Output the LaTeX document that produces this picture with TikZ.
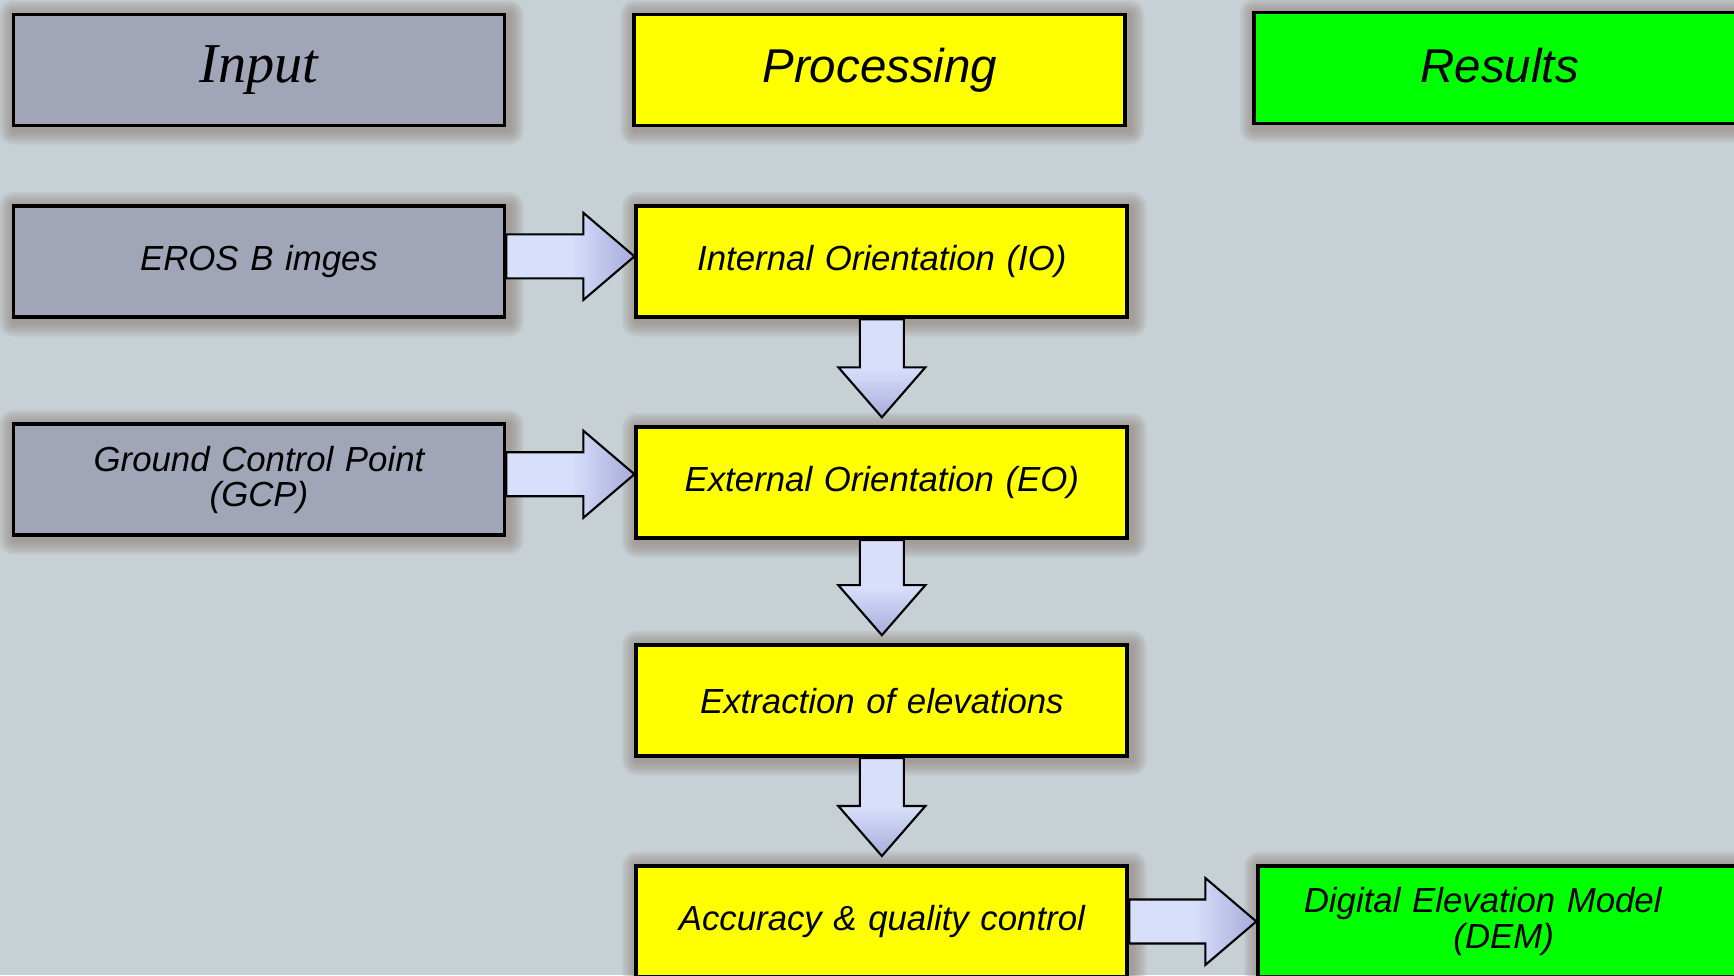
\documentclass[tikz,border=0pt]{standalone}
\usepackage{fontspec}
\setmainfont{Liberation Sans}
\newfontfamily\headserif{Liberation Serif}
\usetikzlibrary{positioning, calc, backgrounds}
\definecolor{slidebg}{HTML}{C6D0D5}
\definecolor{inputgray}{HTML}{A1A5B8}
\definecolor{procyellow}{HTML}{FFFF00}
\definecolor{resgreen}{HTML}{00FF00}
\definecolor{arrowlight}{HTML}{D7DFFB}
\definecolor{arrowdark}{HTML}{A7ABDA}
\definecolor{shadowbrown}{HTML}{8C7B70}

\tikzset{
  flowbox/.style={draw=black, line width=1.1pt, minimum width=4.91cm, minimum height=1.11cm,
    text width=4.6cm, align=center, inner sep=0pt, font=\fontsize{9.9}{10}\selectfont\itshape},
  inbox/.style={flowbox, fill=inputgray},
  procbox/.style={flowbox, fill=procyellow},
  resbox/.style={flowbox, fill=resgreen},
  headsans/.style={font=\fontsize{13.5}{14}\selectfont\itshape},
  fatarrow/.style={draw=black, line width=0.6pt},
}

% soft glow behind a box
\newcommand{\boxshadow}[1]{%
  \foreach \k [evaluate=\k as \d using 0.6*\k] in {1,...,7}{%
    \fill[shadowbrown, opacity=0.11, rounded corners=\d pt]
      ($(#1.south west)+(-\d pt+0.7pt,-\d pt-0.7pt)$) rectangle ($(#1.north east)+(\d pt+0.7pt,\d pt-0.7pt)$);
  }}

% block arrows between boxes, optional lift of the arrow axis
\newcommand{\hfat}[3][0cm]{%
  \filldraw[fatarrow, left color=arrowlight, right color=arrowdark, middle color=arrowlight]
    let \p1=($(#2.east)+(0,#1)$), \p2=(#3.west) in
    (\x1,\y1+0.22cm) -- (\x2-0.51cm,\y1+0.22cm) -- (\x2-0.51cm,\y1+0.435cm) -- (\x2,\y1)
    -- (\x2-0.51cm,\y1-0.435cm) -- (\x2-0.51cm,\y1-0.22cm) -- (\x1,\y1-0.22cm) -- cycle;}
\newcommand{\vfat}[2]{%
  \filldraw[fatarrow, top color=arrowlight, bottom color=arrowdark, middle color=arrowlight]
    let \p1=(#1.south), \p2=(#2.north) in
    (\x1-0.22cm,\y1) -- (\x1-0.22cm,\y2+0.58cm) -- (\x1-0.435cm,\y2+0.58cm) -- (\x1,\y2+0.08cm)
    -- (\x1+0.435cm,\y2+0.58cm) -- (\x1+0.22cm,\y2+0.58cm) -- (\x1+0.22cm,\y1) -- cycle;}

\begin{document}
\begin{tikzpicture}
    \useasboundingbox (0,0) rectangle (17.34,-9.75);
    \begin{scope}[on background layer]
      \fill[slidebg] (0,0) rectangle (17.34,-9.75);
    \end{scope}

    % column heads
    \node[inbox, font=\headserif\fontsize{16}{18}\selectfont\itshape] (input) at (2.59,-0.70) {Input};
    \node[procbox, headsans, right=1.26cm of input] (proc) {Processing};
    \node[resbox, headsans, right=1.25cm of proc, yshift=0.02cm] (res) {\raisebox{0.05cm}{Results}};

    % steps
    \node[inbox, below=0.77cm of input] (eros) {EROS B imges};
    \node[procbox, right=1.28cm of eros] (io) {Internal Orientation (IO)};
    \node[procbox, below=1.06cm of io] (eo) {External Orientation (EO)};
    \node[inbox, left=1.28cm of eo, yshift=0.03cm] (gcp) {Ground Control Point\\(GCP)};
    \node[procbox, below=1.03cm of eo] (extr) {Extraction of elevations};
    \node[procbox, below=1.06cm of extr] (acc) {Accuracy \& quality control};
    \node[resbox, right=1.27cm of acc] (dem) {Digital Elevation Model\rule{0.42cm}{0pt}\\(DEM)};

    \begin{scope}[on background layer]
      \foreach \n in {input,proc,res,eros,io,eo,gcp,extr,acc,dem}{\boxshadow{\n}}
      \hfat[0.055cm]{eros}{io}
      \hfat[0.055cm]{gcp}{eo}
      \hfat{acc}{dem}
      \vfat{io}{eo}
      \vfat{eo}{extr}
      \vfat{extr}{acc}
    \end{scope}
\end{tikzpicture}
\end{document}
